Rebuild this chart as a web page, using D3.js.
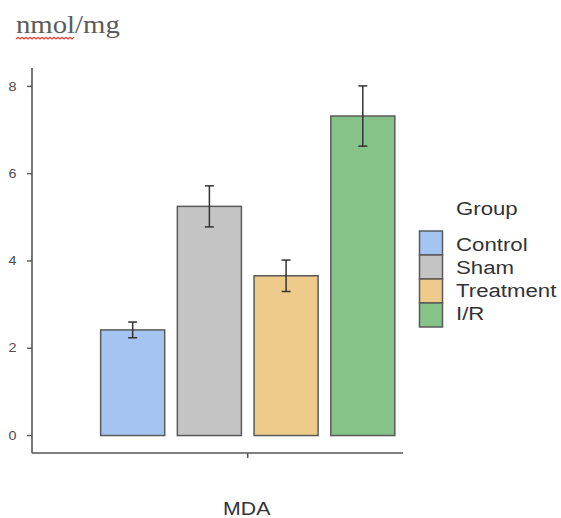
<!DOCTYPE html>
<html>
<head>
<meta charset="utf-8">
<script src="https://cdn.jsdelivr.net/npm/d3@7/dist/d3.min.js"></script>
<style>
  html, body { margin: 0; padding: 0; background: #fff; }
  svg { display: block; }
</style>
</head>
<body>
<script>
// MDA levels per group (mean and error half-width), nmol/mg
const groups = ["Control", "Sham", "Treatment", "I/R"];
const means = [2.42, 5.25, 3.66, 7.32];
const errors = [0.18, 0.47, 0.36, 0.69];
const fills = ["#a5c4f1", "#c4c4c4", "#efcb8b", "#86c389"];
const yTicks = [0, 2, 4, 6, 8];
const category = "MDA";

const W = 561, H = 518;
const svg = d3.select("body").append("svg").attr("width", W).attr("height", H);

// Text is drawn slightly widened horizontally
const SX = 1.15;
function label(sel, x, y, txt, opts) {
  const o = Object.assign({size: 12, anchor: "start", fill: "#333", family: "'Liberation Sans', Arial, sans-serif", sx: SX, baseline: null}, opts || {});
  const t = sel.append("text")
    .attr("transform", `translate(${x},${y}) scale(${o.sx},1)`)
    .attr("text-anchor", o.anchor)
    .attr("font-family", o.family)
    .attr("font-size", o.size)
    .attr("fill", o.fill)
    .text(txt);
  if (o.baseline) t.attr("dominant-baseline", o.baseline);
  return t;
}

// Scales
const y = d3.scaleLinear().domain([-0.4, 8.42]).range([453, 68]);
const xOuter = d3.scaleLinear().domain([0.34, 1.475]).range([32, 403]);
const catPos = 1;
const x = d3.scaleBand().domain(groups)
  .range([xOuter(catPos - 0.45), xOuter(catPos + 0.45)])
  .paddingInner(0.165).paddingOuter(0);
const color = d3.scaleOrdinal().domain(groups).range(fills);

const axisColor = "#555";

// Y axis
const yAxis = svg.append("g").attr("transform", `translate(${xOuter.range()[0]},0)`);
yAxis.append("line").attr("x1", 0).attr("x2", 0)
  .attr("y1", y.range()[1]).attr("y2", y.range()[0])
  .attr("stroke", axisColor).attr("stroke-width", 1.6);
yTicks.forEach(v => {
  yAxis.append("line").attr("x1", -5).attr("x2", 0).attr("y1", y(v)).attr("y2", y(v))
    .attr("stroke", axisColor).attr("stroke-width", 1.4);
  label(yAxis, -15.5, y(v), String(v), {size: 12.5, anchor: "end", fill: "#4d4d4d", baseline: "central"});
});

// X axis
const xAxis = svg.append("g").attr("transform", `translate(0,${y.range()[0]})`);
xAxis.append("line").attr("x1", xOuter.range()[0]).attr("x2", xOuter.range()[1])
  .attr("y1", 0).attr("y2", 0).attr("stroke", axisColor).attr("stroke-width", 1.6);
xAxis.append("line").attr("x1", xOuter(catPos)).attr("x2", xOuter(catPos))
  .attr("y1", 0).attr("y2", 5).attr("stroke", axisColor).attr("stroke-width", 1.4);
label(svg, xOuter(catPos) - 1, 515, category, {size: 19, anchor: "middle", fill: "#333", sx: 1.12});

// Bars
svg.append("g").selectAll("rect").data(groups).join("rect")
  .attr("x", d => x(d))
  .attr("width", x.bandwidth())
  .attr("y", (d, i) => y(means[i]))
  .attr("height", (d, i) => y(0) - y(means[i]))
  .attr("fill", d => color(d))
  .attr("stroke", "#5a5a5a")
  .attr("stroke-width", 1.5);

// Error bars
const eb = svg.append("g").attr("stroke", "#333").attr("stroke-width", 1.5);
groups.forEach((g, i) => {
  const cx = x(g) + x.bandwidth() / 2;
  const top = y(means[i] + errors[i]), bot = y(means[i] - errors[i]);
  eb.append("line").attr("x1", cx).attr("x2", cx).attr("y1", top).attr("y2", bot);
  eb.append("line").attr("x1", cx - 4.5).attr("x2", cx + 4.5).attr("y1", top).attr("y2", top);
  eb.append("line").attr("x1", cx - 4.5).attr("x2", cx + 4.5).attr("y1", bot).attr("y2", bot);
});

// Legend
const lg = svg.append("g");
label(lg, 456, 215, "Group", {size: 19, fill: "#333", sx: 1.17});
const keyW = 23, keyH = 24, keyX = 419.5, keyY0 = 231;
groups.forEach((g, i) => {
  const ky = keyY0 + i * keyH;
  lg.append("rect").attr("x", keyX).attr("y", ky).attr("width", keyW).attr("height", keyH)
    .attr("fill", color(g)).attr("stroke", "#5a5a5a").attr("stroke-width", 1.5);
  label(lg, 456, ky + keyH / 2 + 1 - i * 0.8, g, {size: 19, fill: "#333", sx: 1.17, baseline: "central"});
});

// Unit label with spell-check underline
label(svg, 16, 33, "nmol/mg", {size: 25, fill: "#5b5b5b", family: "'Liberation Serif', 'Times New Roman', serif", sx: 1.15});
const sq = d3.path();
sq.moveTo(16, 39);
for (let px = 16, k = 0; px < 74; px += 2, k++) sq.lineTo(px + 2, k % 2 ? 39 : 37.3);
svg.append("path").attr("d", sq.toString()).attr("fill", "none")
  .attr("stroke", "#e0443a").attr("stroke-width", 1.2);
</script>
</body>
</html>
